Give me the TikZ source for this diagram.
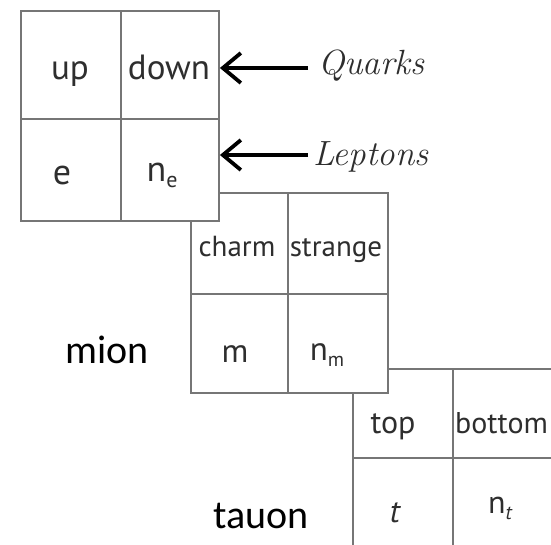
\documentclass[tikz,border=0pt]{standalone}
\usepackage{fontspec}
\setsansfont{PT Sans}
\newfontfamily\calib{Carlito}
\usetikzlibrary{arrows.meta}
\definecolor{linec}{HTML}{767676}
\definecolor{txtc}{HTML}{2E2E2E}
\tikzset{
  cellbox/.style={draw=linec, line width=1.9pt, fill=white, anchor=north west, inner sep=0pt},
  celltxt/.style={anchor=base, text=txtc, font=\sffamily, inner sep=0pt},
  bigtxt/.style={anchor=base west, font=\calib\fontsize{40}{40}\selectfont, inner sep=0pt},
  scrtxt/.style={anchor=base west, font=\rmfamily\itshape\fontsize{35}{35}\selectfont, text=txtc, inner sep=0pt},
  arr/.style={-{Straight Barb[length=18pt,width=30pt]}, line width=3.8pt}
}
\begin{document}
\begin{tikzpicture}[x=1pt,y=-1pt]
\useasboundingbox (0,0) rectangle (551,545);
\clip (0,0) rectangle (551,545);
% box 3
\node[cellbox, minimum width=100pt, minimum height=89pt] (c3a) at (352,368) {};
\node[cellbox, minimum width=100pt, minimum height=89pt] (c3b) at (452,368) {};
\node[cellbox, minimum width=100pt, minimum height=110pt] (c3c) at (352,457) {};
\node[cellbox, minimum width=100pt, minimum height=110pt] (c3d) at (452,457) {};
\node[celltxt, font=\sffamily\fontsize{32}{32}\selectfont] (t3a) at (393,433) {top};
\node[celltxt, anchor=base west, font=\sffamily\fontsize{30}{30}\selectfont] (t3b) at (455,433) {bottom};
\node[celltxt, font=\sffamily\itshape\fontsize{32}{32}\selectfont] (t3c) at (395,522) {t};
\node[celltxt, font=\sffamily\fontsize{32}{32}\selectfont] (t3d) at (500,513) {n\raisebox{-6pt}{\fontsize{20}{20}\selectfont\itshape t}};
% box 2
\node[cellbox, minimum width=97pt, minimum height=101pt] (c2a) at (190,192) {};
\node[cellbox, minimum width=100pt, minimum height=101pt] (c2b) at (287,192) {};
\node[cellbox, minimum width=97pt, minimum height=99pt] (c2c) at (190,293) {};
\node[cellbox, minimum width=100pt, minimum height=99pt] (c2d) at (287,293) {};
\node[celltxt, font=\sffamily\fontsize{29}{29}\selectfont] (t2a) at (237,257) {charm};
\node[celltxt, font=\sffamily\fontsize{29}{29}\selectfont] (t2b) at (336,257) {strange};
\node[celltxt, font=\sffamily\fontsize{33}{33}\selectfont] (t2c) at (235,362) {m};
\node[celltxt, font=\sffamily\fontsize{33}{33}\selectfont] (t2d) at (327,360) {n\raisebox{-6pt}{\fontsize{20}{20}\selectfont m}};
% box 1
\node[cellbox, minimum width=100pt, minimum height=108pt] (c1a) at (20,10) {};
\node[cellbox, minimum width=98pt, minimum height=108pt] (c1b) at (120,10) {};
\node[cellbox, minimum width=100pt, minimum height=102pt] (c1c) at (20,118) {};
\node[cellbox, minimum width=98pt, minimum height=102pt] (c1d) at (120,118) {};
\node[celltxt, font=\sffamily\fontsize{35}{35}\selectfont] (t1a) at (70,80) {up};
\node[celltxt, font=\sffamily\fontsize{35}{35}\selectfont] (t1b) at (169,80) {down};
\node[celltxt, font=\sffamily\fontsize{36}{36}\selectfont] (t1c) at (62,185) {e};
\node[celltxt, font=\sffamily\fontsize{36}{36}\selectfont] (t1d) at (162,182) {n\raisebox{-6pt}{\fontsize{22}{22}\selectfont e}};
% labels
\node[scrtxt] (quarks) at (318,75) {Quarks};
\node[scrtxt] (leptons) at (313,166) {Leptons};
\coordinate (qs) at (308,68);
\coordinate (ls) at (308,155);
\draw[arr] (qs) -- (c1b.east |- qs);
\draw[arr] (ls) -- (c1d.east |- ls);
\node[bigtxt] (mion) at (65,363) {mion};
\node[bigtxt] (tauon) at (213,528) {tauon};
\end{tikzpicture}
\end{document}
